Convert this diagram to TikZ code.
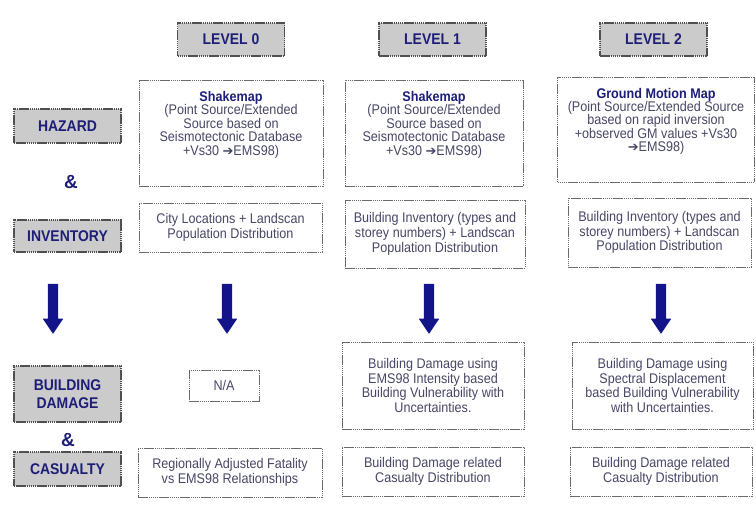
\documentclass[tikz,border=0pt]{standalone}
\usepackage{fontspec}
\setmainfont{Liberation Sans}
\newfontfamily\narrowsans[FakeStretch=0.9]{Liberation Sans}
\newfontfamily\symsans{DejaVu Sans}
\usetikzlibrary{shapes.arrows}
\definecolor{navy}{HTML}{1E1E78}
\definecolor{bodytxt}{HTML}{474766}
\definecolor{boxline}{HTML}{6A6A6A}
\definecolor{grayfill}{HTML}{CBCBCB}
\definecolor{arrowblue}{HTML}{14148A}
\begin{document}
\begin{tikzpicture}[x=1bp,y=-1bp,
  catbox/.style={draw=boxline!75!black, line width=1.1bp, fill=grayfill,
    dash pattern=on 1.5bp off 0.6bp,
    minimum width=107bp, inner sep=0pt, align=center,
    font=\narrowsans\fontsize{15.5bp}{18bp}\selectfont\bfseries, text=navy},
  levelbox/.style={catbox, minimum width=107bp, minimum height=33bp},
  infobox/.style={draw=boxline, line width=0.9bp, fill=white,
    dash pattern=on 1.5bp off 0.6bp,
    inner sep=0pt, align=center,
    font=\narrowsans\fontsize{14bp}{14.8bp}\selectfont, text=bodytxt},
  tightlines/.style={font=\narrowsans\fontsize{14bp}{13.4bp}\selectfont},
  amp/.style={font=\fontsize{19bp}{20bp}\selectfont\bfseries, text=navy},
  blockarrow/.style={single arrow, rotate=-90, fill=arrowblue, draw=none,
    inner sep=5bp, single arrow head extend=5bp,
    single arrow tip angle=68, minimum height=50bp}
]
\useasboundingbox (0,0) rectangle (756,520);
\newcommand{\headtxt}[1]{{\fontsize{14bp}{14bp}\selectfont\bfseries\color{navy}#1}}
\newcommand{\toarrow}{{\symsans\fontsize{13bp}{13bp}\selectfont ➔}}

% level headings
\node[levelbox] (lev0) at (231,39.5) {LEVEL 0};
\node[levelbox] (lev1) at (432.5,39.5) {LEVEL 1};
\node[levelbox] (lev2) at (653.5,39.5) {LEVEL 2};

% row categories
\node[catbox, minimum height=34bp] (hazard) at (67.5,126) {HAZARD};
\node[amp] (ampA) at (71,182) {\&};
\node[catbox, minimum height=32bp] (inventory) at (67.5,236) {INVENTORY};
\node[blockarrow] (arrL) at (53,305) {};
\node[catbox, minimum height=56bp] (bdamage) at (67.5,394) {BUILDING\\DAMAGE};
\node[amp] (ampB) at (68,440) {\&};
\node[catbox, minimum height=34bp] (casualty) at (67.5,469) {CASUALTY};

% hazard models (text block sits in the upper part of the box)
\node[infobox, tightlines, minimum width=184bp, minimum height=106bp] (sm0) at (231,133)
  {\headtxt{Shakemap}\\(Point Source/Extended\\Source based on\\Seismotectonic Database\\+Vs30 \toarrow EMS98)\\[6bp]\mbox{}};
\node[infobox, tightlines, minimum width=178bp, minimum height=106bp] (sm1) at (434,133)
  {\headtxt{Shakemap}\\(Point Source/Extended\\Source based on\\Seismotectonic Database\\+Vs30 \toarrow EMS98)\\[6bp]\mbox{}};
\node[infobox, tightlines, minimum width=197bp, minimum height=105bp] (gm2) at (656,129.5)
  {\headtxt{Ground Motion Map}\\(Point Source/Extended Source\\based on rapid inversion\\+observed GM values +Vs30\\\toarrow EMS98)\\[6bp]\mbox{}};

% inventories
\node[infobox, minimum width=183bp, minimum height=49bp] (city0) at (230.5,227.5)
  {City Locations + Landscan\\Population Distribution};
\node[infobox, minimum width=180bp, minimum height=68bp] (bi1) at (435,234)
  {Building Inventory (types and\\storey numbers) + Landscan\\Population Distribution};
\node[infobox, minimum width=183bp, minimum height=69bp] (bi2) at (659.5,232.5)
  {Building Inventory (types and\\storey numbers) + Landscan\\Population Distribution};

% flow arrows
\node[blockarrow] (arr0) at (227,305) {};
\node[blockarrow] (arr1) at (429,305) {};
\node[blockarrow] (arr2) at (661,305) {};

% building damage
\node[infobox, minimum width=70bp, minimum height=31bp] (na0) at (224,385.5) {N/A};
\node[infobox, minimum width=182bp, minimum height=87bp] (bd1) at (433,385.5)
  {Building Damage using\\EMS98 Intensity based\\Building Vulnerability with\\Uncertainties.};
\node[infobox, minimum width=181bp, minimum height=87bp] (bd2) at (662.5,385.5)
  {Building Damage using\\Spectral Displacement\\based Building Vulnerability\\with Uncertainties.};

% casualties
\node[infobox, minimum width=184bp, minimum height=49bp] (reg0) at (230,472.5)
  {Regionally Adjusted Fatality\\vs EMS98 Relationships};
\node[infobox, minimum width=182bp, minimum height=49bp] (bdc1) at (433,471.5)
  {Building Damage related\\Casualty Distribution};
\node[infobox, minimum width=182bp, minimum height=49bp] (bdc2) at (661,471.5)
  {Building Damage related\\Casualty Distribution};
\end{tikzpicture}
\end{document}
